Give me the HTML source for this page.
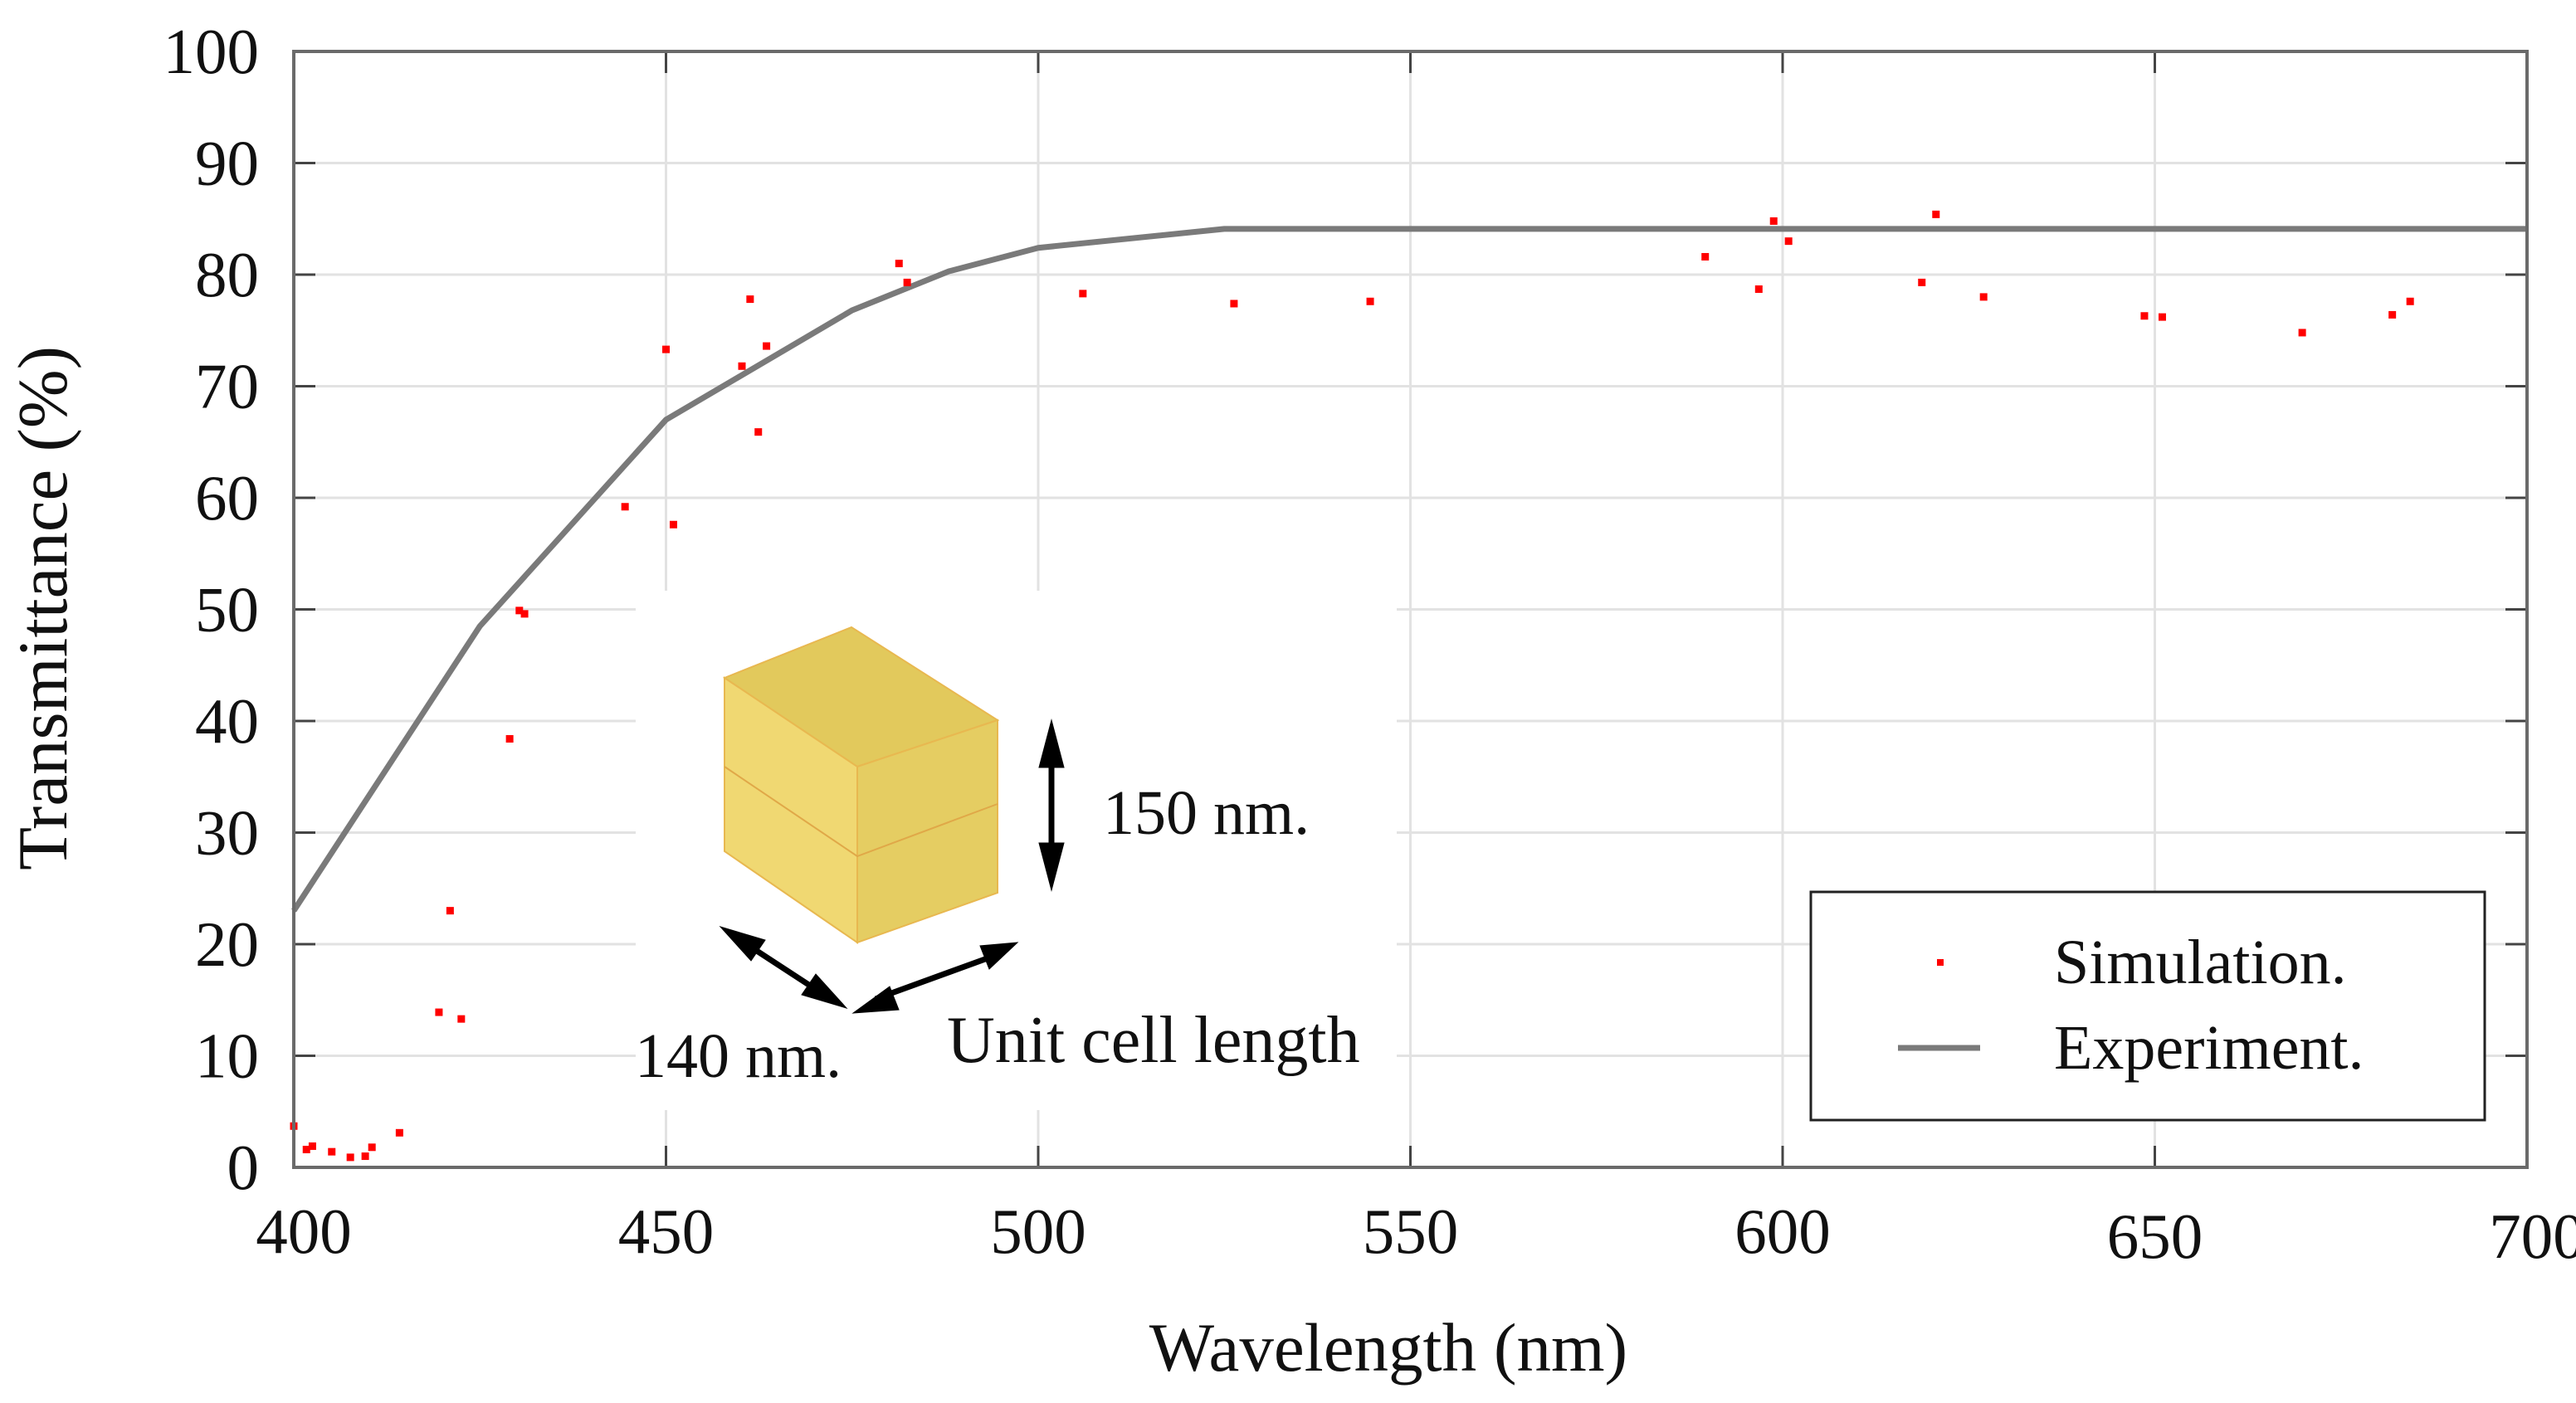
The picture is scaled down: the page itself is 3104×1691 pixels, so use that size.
<!DOCTYPE html>
<html><head><meta charset="utf-8"><style>
html,body{margin:0;padding:0;background:#fff;}
svg{display:block;font-family:"Liberation Serif",serif;}
</style></head><body>
<svg id="chart" width="3104" height="1691" viewBox="0 0 3104 1691" xmlns="http://www.w3.org/2000/svg">
<rect width="3104" height="1691" fill="#fff"/>
<g id="grid"></g>
<rect x="766" y="712" width="917" height="626" fill="#fff"/>
<g id="ticks"></g>
<g id="series"></g>
<rect x="354" y="62" width="2691" height="1345" fill="none" stroke="#6a6a6a" stroke-width="4"/>
<g id="labels" font-size="77" fill="#111"></g>
<text x="1673" y="1652" font-size="83" text-anchor="middle" fill="#111">Wavelength (nm)</text>
<text transform="translate(80,733) rotate(-90)" font-size="85" text-anchor="middle" fill="#111">Transmittance (%)</text>
<g>
  <polygon points="873,817 1026,756 1202,868 1033,924" fill="#e2c95c" stroke="#e8b850" stroke-width="2"/>
  <polygon points="873,817 1033,924 1033,1136 873,1026" fill="#f0d872" stroke="#e8b850" stroke-width="2"/>
  <polygon points="1033,924 1202,868 1202,1076 1033,1136" fill="#e5cd62" stroke="#e8b850" stroke-width="2"/>
  <polyline points="873,924 1033,1032 1202,969" fill="none" stroke="#e0a848" stroke-width="2"/>
  <g fill="#000" stroke="#000" stroke-width="7">
    <line x1="1267" y1="905" x2="1267" y2="1036"/>
    <polygon points="1267,868 1252,925 1282,925" stroke-width="1"/>
    <polygon points="1267,1073 1252,1016 1282,1016" stroke-width="1"/>
    <line x1="895" y1="1135" x2="990" y2="1197"/>
    <polygon points="868,1117 922,1133 905,1158" stroke-width="1"/>
    <polygon points="1020,1215 966,1199 983,1174" stroke-width="1"/>
    <line x1="1055" y1="1204" x2="1198" y2="1152"/>
    <polygon points="1028,1221 1072,1189 1083,1217" stroke-width="1"/>
    <polygon points="1226,1136 1181,1140 1192,1168" stroke-width="1"/>
  </g>
  <text x="1329" y="1005" font-size="76" fill="#111">150 nm.</text>
  <text x="765" y="1298" font-size="76" fill="#111">140 nm.</text>
  <text x="1141" y="1280" font-size="80" fill="#111">Unit cell length</text>
</g>
<g>
  <rect x="2182" y="1075" width="812" height="275" fill="#fff" stroke="#222" stroke-width="3"/>
  <rect x="2334" y="1156" width="8" height="8" fill="#ff0000"/>
  <text x="2475" y="1185" font-size="76" fill="#111">Simulation.</text>
  <line x1="2287" y1="1263" x2="2386" y2="1263" stroke="#7a7a7a" stroke-width="7"/>
  <text x="2475" y="1288" font-size="76" fill="#111">Experiment.</text>
</g>
</svg>
<script>
const xTicks = [400, 450, 500, 550, 600, 650, 700];
const yTicks = [0, 10, 20, 30, 40, 50, 60, 70, 80, 90, 100];
const expWavelength = [400, 425, 450, 475, 488, 500, 525, 700];
const expTransmittance = [23, 48.5, 67, 76.8, 80.3, 82.4, 84.1, 84.1];
const simWavelength = [400, 401.7, 402.5, 405.1, 407.6, 409.6, 410.5, 414.2, 419.5, 421, 422.5, 429, 430.3, 431, 444.5, 450, 451, 460.2, 461.3, 462.4, 463.5, 481.3, 482.4, 506, 526.3, 544.6, 589.6, 596.8, 598.8, 600.8, 618.7, 620.6, 627, 648.6, 651, 669.8, 681.9, 684.3];
const simTransmittance = [3.7, 1.6, 1.9, 1.4, 0.9, 1.0, 1.8, 3.1, 13.9, 23.0, 13.3, 38.4, 49.9, 49.6, 59.2, 73.3, 57.6, 71.8, 77.8, 65.9, 73.6, 81.0, 79.3, 78.3, 77.4, 77.6, 81.6, 78.7, 84.8, 83.0, 79.3, 85.4, 78.0, 76.3, 76.2, 74.8, 76.4, 77.6];

const NS = 'http://www.w3.org/2000/svg';
const X0 = 354, X1 = 3045, Y0 = 1407, Y1 = 62;
function xs(v){ return X0 + (v - 400) / 300 * (X1 - X0); }
function ys(v){ return Y0 - v / 100 * (Y0 - Y1); }
function mk(tag, attrs, parent){
  const el = document.createElementNS(NS, tag);
  for (const k in attrs) el.setAttribute(k, attrs[k]);
  parent.appendChild(el);
  return el;
}
const grid = document.getElementById('grid');
const ticks = document.getElementById('ticks');
const labels = document.getElementById('labels');
const series = document.getElementById('series');

yTicks.forEach(v => {
  const y = ys(v);
  if (v > 0 && v < 100) {
    const g = mk('line', {x1: X0, x2: X1, y1: y, y2: y, stroke: '#e2e2e2', 'stroke-width': 3}, grid);
    
    
  }
  const t1 = mk('line', {x1: X0, x2: X0 + 26, y1: y, y2: y, stroke: '#444', 'stroke-width': 3}, ticks);
  
  
  const t2 = mk('line', {x1: X1 - 26, x2: X1, y1: y, y2: y, stroke: '#444', 'stroke-width': 3}, ticks);
  
  
  const lb = mk('text', {x: 312, y: y + 26, 'text-anchor': 'end'}, labels);
  lb.textContent = v;
  
  
});
xTicks.forEach((v, i) => {
  const x = xs(v);
  if (v > 400 && v < 700) {
    const g = mk('line', {x1: x, x2: x, y1: Y1, y2: Y0, stroke: '#e2e2e2', 'stroke-width': 3}, grid);
    
    
  }
  const t1 = mk('line', {x1: x, x2: x, y1: Y0 - 26, y2: Y0, stroke: '#444', 'stroke-width': 3}, ticks);
  
  
  const t2 = mk('line', {x1: x, x2: x, y1: Y1, y2: Y1 + 26, stroke: '#444', 'stroke-width': 3}, ticks);
  
  
  const lb = mk('text', {x: x + (i === 0 ? 12 : 0) - (i === xTicks.length - 1 ? -12 : 0), y: 1510 + (v >= 650 ? 6 : 0), 'text-anchor': 'middle'}, labels);
  lb.textContent = v;
  
  
});
const pts = expWavelength.map((w, i) => xs(w) + ',' + ys(expTransmittance[i])).join(' ');
const line = mk('polyline', {points: pts, fill: 'none', stroke: '#7a7a7a', 'stroke-width': 7, 'stroke-linejoin': 'round'}, series);


simWavelength.forEach((w, i) => {
  const p = mk('rect', {x: xs(w) - 4.5, y: ys(simTransmittance[i]) - 4.5, width: 9, height: 9, fill: '#ff0000'}, series);
  
  
});
</script>
</body></html>
